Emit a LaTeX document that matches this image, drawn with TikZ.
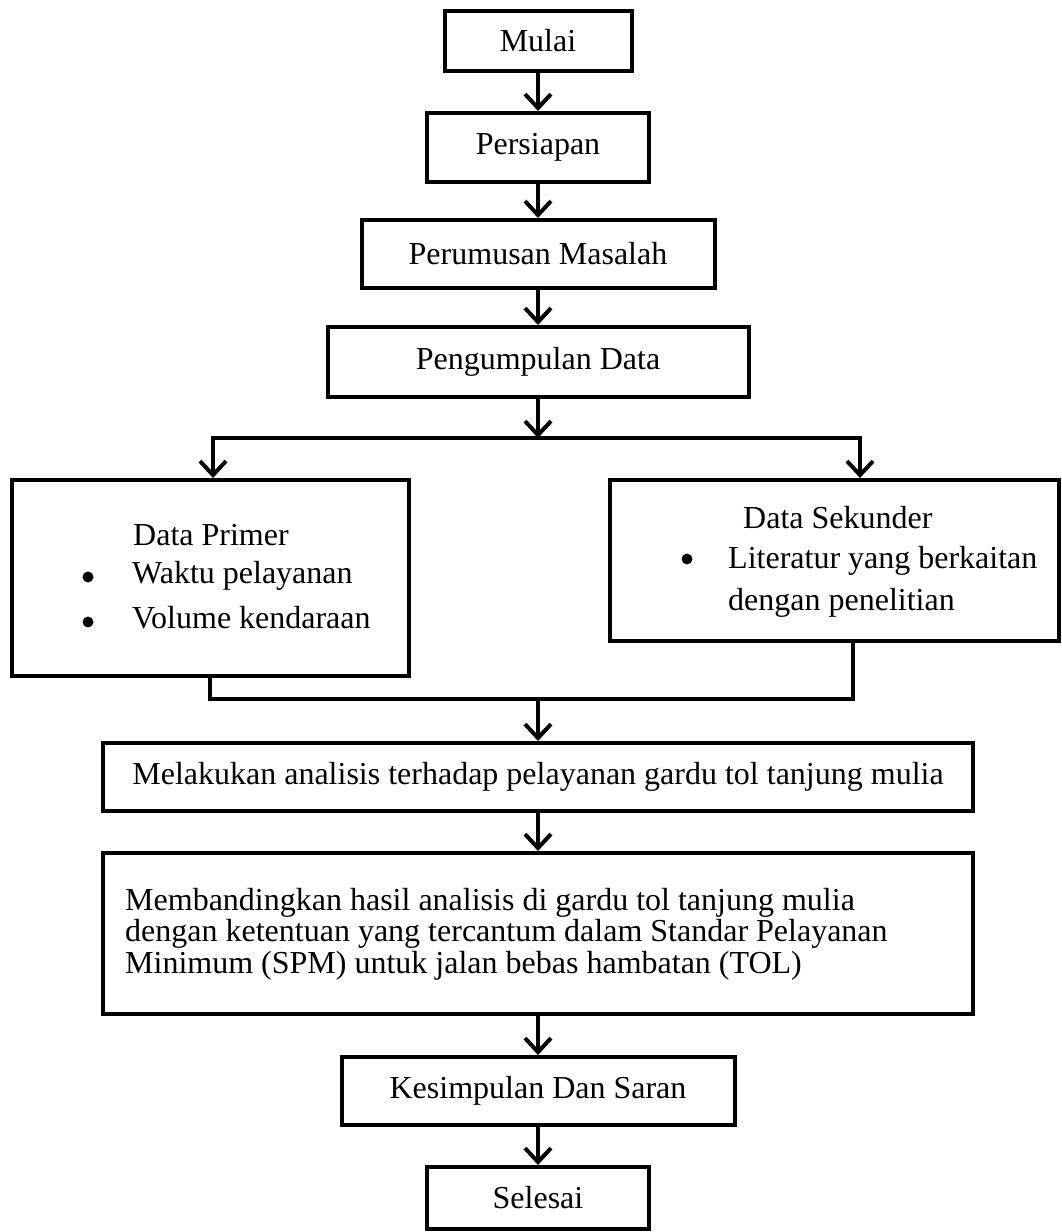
\documentclass[tikz,border=0pt]{standalone}
\usepackage{fontspec}
\setmainfont{Liberation Serif}
\usetikzlibrary{arrows.meta}

\tikzset{
  box/.style={draw,line width=4pt,inner sep=0pt,font=\fontsize{32}{31.5}\selectfont},
  txt/.style={inner sep=0pt,font=\fontsize{32}{31.5}\selectfont},
  dot/.style={circle,fill,inner sep=0pt,minimum size=11pt},
  line/.style={line width=4pt},
  flow/.style={line width=4pt,-{Straight Barb[length=14pt,width=26pt]}},
  fork/.style={line width=4pt,{Straight Barb[length=14pt,width=26pt]}-{Straight Barb[length=14pt,width=26pt]}}
}

\begin{document}
\begin{tikzpicture}[x=1pt,y=-1pt]
\useasboundingbox (0,0) rectangle (1061,1232);
% main column
\node[box,minimum width=187,minimum height=60] (mulai) at (538,41) {Mulai};
\node[box,minimum width=222,minimum height=69] (persiapan) at (538,147.5) {Persiapan};
\node[box,minimum width=353,minimum height=68] (perumusan) at (538,254) {Perumusan Masalah};
\node[box,minimum width=421,minimum height=70] (pengumpulan) at (538,362) {Pengumpulan Data};
% the two kinds of data
\node[box,minimum width=397,minimum height=196] (primer) at (210.5,578) {};
\node[box,minimum width=449,minimum height=161] (sekunder) at (834.5,560.5) {};
\node[txt,anchor=base west] (primerT) at (133,545) {Data Primer};
\node[dot] (primerB1) at (88,577) {};
\node[txt,anchor=base west] (primerI1) at (132,583) {Waktu pelayanan};
\node[dot] (primerB2) at (88,622) {};
\node[txt,anchor=base west] (primerI2) at (132,628) {Volume kendaraan};
\node[txt,anchor=base west] (sekunderT) at (743,528) {Data Sekunder};
\node[dot] (sekunderB1) at (687,559) {};
\node[txt,anchor=base west] (sekunderI1) at (728,568) {Literatur yang berkaitan};
\node[txt,anchor=base west] (sekunderI2) at (728,610) {dengan penelitian};
% analysis and end
\node[box,minimum width=870,minimum height=68] (melakukan) at (538,777) {Melakukan analisis terhadap pelayanan gardu tol tanjung mulia};
\node[box,minimum width=870,minimum height=161] (membandingkan) at (538,933.5) {};
\node[txt,anchor=west,align=left] (membandingkanT) at (125,934) {Membandingkan hasil analisis di gardu tol tanjung mulia\\dengan ketentuan yang tercantum dalam Standar Pelayanan\\Minimum (SPM) untuk jalan bebas hambatan (TOL)};
\node[box,minimum width=393,minimum height=68] (kesimpulan) at (538,1091) {Kesimpulan Dan Saran};
\node[box,minimum width=222,minimum height=62] (selesai) at (538,1198) {Selesai};
% connectors
\coordinate (split) at (538,438);
\coordinate (splitL) at (213,438);
\coordinate (splitR) at (860,438);
\coordinate (join) at (538,699);
\coordinate (joinL) at (210,699);
\coordinate (joinR) at (853,699);
\draw[flow] (mulai) -- (persiapan);
\draw[flow] (persiapan) -- (perumusan);
\draw[flow] (perumusan) -- (pengumpulan);
\draw[flow] (pengumpulan) -- (split);
\draw[fork] (splitL |- primer.north) -- (splitL) -- (splitR) -- (splitR |- sekunder.north);
\draw[line] (primer.south -| joinL) -- (joinL) -- (joinR) -- (sekunder.south -| joinR);
\draw[flow] (join) -- (melakukan);
\draw[flow] (melakukan) -- (membandingkan);
\draw[flow] (membandingkan) -- (kesimpulan);
\draw[flow] (kesimpulan) -- (selesai);
\end{tikzpicture}
\end{document}
